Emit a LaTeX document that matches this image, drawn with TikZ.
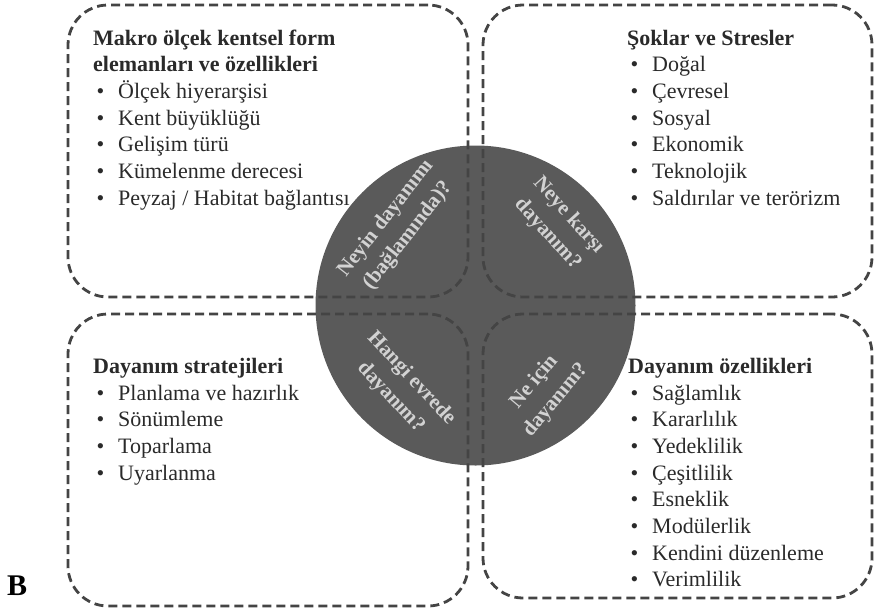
\documentclass[tikz,border=0pt]{standalone}
\usepackage{fontspec}
\setmainfont{Liberation Serif}
\definecolor{dashgray}{HTML}{444444}
\definecolor{ink}{HTML}{2A2A2A}
\definecolor{disc}{HTML}{5A5A5A}
\definecolor{qtext}{HTML}{D2D2D2}
\newcommand\bulletmark{\makebox[21.5pt][l]{\textbullet}}
\begin{document}
\begin{tikzpicture}[x=1pt,y=-1pt,
  panel/.style={draw=dashgray, line width=2.8pt, dash pattern=on 9pt off 5pt,
    rounded corners=40pt, inner sep=0pt, rectangle},
  head/.style={anchor=base west, inner sep=0pt,
    font=\fontsize{22}{26}\selectfont\bfseries, text=ink},
  item/.style={anchor=base west, inner sep=0pt,
    font=\fontsize{22}{26}\selectfont, text=ink},
  question/.style={align=center, inner sep=0pt,
    font=\fontsize{21}{24}\selectfont\bfseries, text=qtext},
]
\useasboundingbox (0,0) rectangle (875,611);

% top-left panel text
\node[head] (tl-h1) at (93,45) {Makro ölçek kentsel form};
\node[head] (tl-h2) at (93,71.7) {elemanları ve özellikleri};
\foreach \t [count=\i] in {Ölçek hiyerarşisi, Kent büyüklüğü, Gelişim türü,
    Kümelenme derecesi, Peyzaj / Habitat bağlantısı}
  \node[item] (tl-\i) at (96.5,{98.33+26.67*(\i-1)}) {\bulletmark\t};

% top-right panel text
\node[head] (tr-h) at (627,45) {Şoklar ve Stresler};
\foreach \t [count=\i] in {Doğal, Çevresel, Sosyal, Ekonomik, Teknolojik,
    Saldırılar ve terörizm}
  \node[item] (tr-\i) at (630.5,{71.67+26.67*(\i-1)}) {\bulletmark\t};

% bottom-left panel text
\node[head] (bl-h) at (93,373) {Dayanım stratejileri};
\foreach \t [count=\i] in {Planlama ve hazırlık, Sönümleme, Toparlama, Uyarlanma}
  \node[item] (bl-\i) at (96.5,{400+26.67*(\i-1)}) {\bulletmark\t};

% bottom-right panel text
\node[head] (br-h) at (628,373) {Dayanım özellikleri};
\foreach \t [count=\i] in {Sağlamlık, Kararlılık, Yedeklilik, Çeşitlilik,
    Esneklik, Modülerlik, Kendini düzenleme, Verimlilik}
  \node[item] (br-\i) at (630.5,{400+26.67*(\i-1)}) {\bulletmark\t};

% central disc
\node[circle, fill=disc, minimum size=320pt, inner sep=0pt] (hub) at (475.5,305.5) {};

% dashed panels
\node[panel, minimum width=400pt, minimum height=292pt] (tl) at (268,151) {};
\node[panel, minimum width=389pt, minimum height=292pt] (tr) at (677.5,151) {};
\node[panel, minimum width=400pt, minimum height=292pt] (bl) at (268,460) {};
\node[panel, minimum width=389pt, minimum height=284pt] (br) at (677.5,456) {};

% questions on the disc
\node[question, rotate=52] (q1) at (397,227) {Neyin dayanımı\\[4pt](bağlamında)?};
\node[question, rotate=-48] (q2) at (558,225) {Neye karşı\\[4pt]dayanım?};
\node[question, rotate=-47] (q3) at (401,388) {Hangi evrede\\[4pt]dayanım?};
\node[question, rotate=50] (q4) at (545,391) {Ne için\\[4pt]dayanım?};

% panel letter
\node[anchor=base west, inner sep=0pt, font=\fontsize{30}{30}\selectfont\bfseries,
  text=black] (letter) at (7,595) {B};
\end{tikzpicture}
\end{document}
